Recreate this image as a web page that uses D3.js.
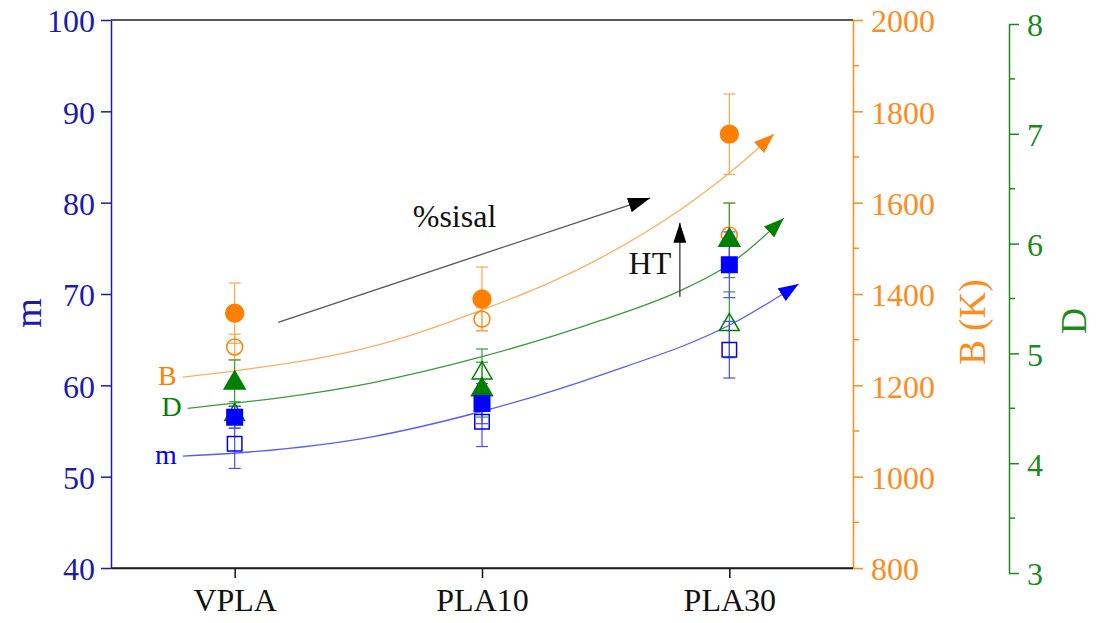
<!DOCTYPE html>
<html>
<head>
<meta charset="UTF-8">
<script src="https://d3js.org/d3.v7.min.js"></script>
<style>
    body { margin: 0; background: #fff; }
    svg { display: block; font-family: "Liberation Serif", "Times New Roman", serif; }
</style>
</head>
<body>
<svg id="chart" width="1096" height="623"></svg>
<script>
    // categories on x
    const categories = ["VPLA", "PLA10", "PLA30"];

    // m (left axis) : open = untreated, filled = HT
    const mOpen = [53.6, 56.0, 63.9];
    const mOpenErr = [2.7, 2.7, 3.1];
    const mHT = [56.5, 58.0, 73.2];
    const mHTErr = [1.2, 2.2, 3.6];

    // B (K) (first right axis)
    const bOpen = [1284, 1345, 1529];
    const bOpenErr = [28, 25, 70];
    const bHT = [1358, 1389, 1750];
    const bHTErr = [66, 70, 88];

    // D (second right axis)
    const dOpen = [4.44, 4.82, 5.26];
    const dOpenErr = [0.12, 0.22, 0.30];
    const dHT = [4.73, 4.67, 6.03];
    const dHTErr = [0.21, 0.25, 0.34];

    // trend curves, [category position, value]
    const bTrend = [[-0.21, 1218], [0.06, 1236], [0.55, 1284], [0.99, 1363], [1.48, 1479], [1.80, 1584], [2.0, 1665], [2.18, 1750]];
    const dTrend = [[-0.19, 4.50], [0.55, 4.73], [1.0, 4.97], [1.48, 5.30], [1.80, 5.57], [2.0, 5.81], [2.22, 6.23]];
    const mTrend = [[-0.21, 52.26], [0.06, 52.70], [0.55, 54.34], [0.99, 57.08], [1.48, 61.13], [2.04, 67.15], [2.28, 71.1]];

    // annotation arrows, [category position, m value]
    const sisalArrow = [[0.176, 66.9], [1.68, 80.5]];
    const htArrow = [[1.80, 69.7], [1.80, 77.8]];

    // ticks
    const mTicks = [40, 50, 60, 70, 80, 90, 100];
    const bTicks = [800, 1000, 1200, 1400, 1600, 1800, 2000];
    const bMinor = [900, 1100, 1300, 1500, 1700, 1900];
    const dTicks = [3, 4, 5, 6, 7, 8];
    const dMinor = [3.5, 4.5, 5.5, 6.5, 7.5];

    const BLUE = "#0000ff", BLUE_AX = "#1b1bb0", BLUE_LN = "#5a5aff";
    const ORANGE = "#ff8000", ORANGE_AX = "#ff8c1a", ORANGE_LN = "#ffae5c";
    const GREEN = "#008000", GREEN_AX = "#1b8a1b", GREEN_LN = "#3c9a3c";

    const svg = d3.select("#chart");
    const pLeft = 111, pRight = 853, pTop = 20, pBottom = 568;

    const x = d3.scaleLinear().domain([-0.5, 2.5]).range([pLeft, pRight]);
    const yM = d3.scaleLinear().domain([40, 100]).range([pBottom, pTop]);
    const yB = d3.scaleLinear().domain([800, 2000]).range([pBottom, pTop]);
    const yD = d3.scaleLinear().domain([3, 8]).range([573, 24]);

    // arrowheads
    const defs = svg.append("defs");
    function arrowHead(id, color, len, wid) {
        defs.append("marker")
            .attr("id", id)
            .attr("markerUnits", "userSpaceOnUse")
            .attr("viewBox", `0 0 ${len} ${wid}`)
            .attr("markerWidth", len)
            .attr("markerHeight", wid)
            .attr("refX", len)
            .attr("refY", wid / 2)
            .attr("orient", "auto")
            .append("path")
            .attr("d", `M0,0 L${len},${wid / 2} L0,${wid} Z`)
            .attr("fill", color);
    }
    arrowHead("arB", ORANGE, 20, 15);
    arrowHead("arD", GREEN, 20, 15);
    arrowHead("arM", BLUE, 20, 15);
    arrowHead("arK", "#000", 22, 15);
    arrowHead("arH", "#000", 20, 13);

    // frame top
    svg.append("line").attr("x1", pLeft).attr("x2", pRight).attr("y1", pTop).attr("y2", pTop)
        .attr("stroke", "#222").attr("stroke-width", 1.5);

    function styleAxis(g, color) {
        g.attr("font-family", null).attr("font-size", null);
        g.select(".domain").attr("stroke", color).attr("stroke-width", 1.5);
        g.selectAll(".tick line").attr("stroke", color).attr("stroke-width", 1.5);
        g.selectAll("text").attr("font-size", 32).attr("fill", color);
    }

    // x axis
    const gx = svg.append("g")
        .attr("transform", `translate(0,${pBottom})`)
        .call(d3.axisBottom(x).tickValues([0, 1, 2]).tickFormat(i => categories[i])
            .tickSize(10).tickSizeOuter(0).tickPadding(10));
    styleAxis(gx, "#111");

    // left axis m
    const gm = svg.append("g")
        .attr("transform", `translate(${pLeft},0)`)
        .call(d3.axisLeft(yM).tickValues(mTicks).tickFormat(d3.format("d"))
            .tickSize(10).tickSizeOuter(0).tickPadding(6));
    styleAxis(gm, BLUE_AX);
    gm.selectAll("text").attr("dy", "0.37em");

    // right axes B and D
    function rightAxis(scale, ticks, minor, xPos, color) {
        const g = svg.append("g").attr("transform", `translate(${xPos},0)`);
        g.call(d3.axisRight(scale).tickValues(ticks).tickFormat(d3.format("d"))
            .tickSize(10).tickSizeOuter(0).tickPadding(8));
        styleAxis(g, color);
        g.selectAll("text").attr("dy", "0.37em");
        g.selectAll(".minor").data(minor).enter().append("line")
            .attr("class", "minor")
            .attr("x1", 0).attr("x2", 6)
            .attr("y1", d => scale(d)).attr("y2", d => scale(d))
            .attr("stroke", color).attr("stroke-width", 1.5);
    }
    rightAxis(yB, bTicks, bMinor, pRight, ORANGE_AX);
    rightAxis(yD, dTicks, dMinor, 1009, GREEN_AX);

    // bottom frame line drawn after the axes so it sits on top
    svg.append("line").attr("x1", pLeft).attr("x2", pRight).attr("y1", pBottom).attr("y2", pBottom)
        .attr("stroke", "#222").attr("stroke-width", 1.5);

    // axis titles
    function rotTitle(txt, cx, cy, color, fs) {
        svg.append("text")
            .attr("transform", `translate(${cx},${cy}) rotate(-90)`)
            .attr("text-anchor", "middle").attr("dy", "0.35em")
            .attr("font-size", fs).attr("fill", color).text(txt);
    }
    rotTitle("m", 28, 313, BLUE_AX, 38);
    rotTitle("B (K)", 972, 322, ORANGE_AX, 37);
    rotTitle("D", 1073, 321, GREEN_AX, 36);

    // trend curves
    const trends = [
        { pts: mTrend, y: yM, color: BLUE_LN, mk: "arM", label: "m", lc: BLUE },
        { pts: dTrend, y: yD, color: GREEN_LN, mk: "arD", label: "D", lc: GREEN },
        { pts: bTrend, y: yB, color: ORANGE_LN, mk: "arB", label: "B", lc: ORANGE }
    ];
    trends.forEach(t => {
        const line = d3.line().x(d => x(d[0])).y(d => t.y(d[1])).curve(d3.curveMonotoneX);
        svg.append("path")
            .attr("d", line(t.pts))
            .attr("fill", "none")
            .attr("stroke", t.color)
            .attr("stroke-width", 1.3)
            .attr("marker-end", `url(#${t.mk})`);
        svg.append("text")
            .attr("x", x(t.pts[0][0]) - 6)
            .attr("y", t.y(t.pts[0][1]) + 8)
            .attr("text-anchor", "end")
            .attr("font-size", 28)
            .attr("fill", t.lc)
            .text(t.label);
    });

    // data points with error bars
    const series = [
        { v: bHT, e: bHTErr, y: yB, shape: d3.symbolCircle, size: 250, filled: true, c: ORANGE, ec: "#ffa64d" },
        { v: bOpen, e: bOpenErr, y: yB, shape: d3.symbolCircle, size: 200, filled: false, c: ORANGE, ec: "#ffa64d" },
        { v: dHT, e: dHTErr, y: yD, shape: d3.symbolTriangle, size: 190, filled: true, c: GREEN, ec: "#3c9a3c" },
        { v: dOpen, e: dOpenErr, y: yD, shape: d3.symbolTriangle, size: 170, filled: false, c: GREEN, ec: "#3c9a3c" },
        { v: mHT, e: mHTErr, y: yM, shape: d3.symbolSquare, size: 240, filled: true, c: BLUE, ec: "#4a4aff" },
        { v: mOpen, e: mOpenErr, y: yM, shape: d3.symbolSquare, size: 210, filled: false, c: BLUE, ec: "#4a4aff" }
    ];

    series.forEach(s => {
        const g = svg.append("g");
        s.v.forEach((val, i) => {
            const cx = x(i), y0 = s.y(val - s.e[i]), y1 = s.y(val + s.e[i]);
            g.append("line").attr("x1", cx).attr("x2", cx).attr("y1", y0).attr("y2", y1)
                .attr("stroke", s.ec).attr("stroke-width", 1.2);
            [y0, y1].forEach(yy => g.append("line")
                .attr("x1", cx - 6).attr("x2", cx + 6).attr("y1", yy).attr("y2", yy)
                .attr("stroke", s.ec).attr("stroke-width", 1.2));
        });
    });

    series.forEach(s => {
        svg.append("g").selectAll("path")
            .data(s.v).enter().append("path")
            .attr("transform", (d, i) => `translate(${x(i)},${s.y(d)})`)
            .attr("d", d3.symbol().type(s.shape).size(s.size))
            .attr("fill", s.filled ? s.c : "none")
            .attr("stroke", s.c)
            .attr("stroke-width", 1.5);
    });

    // annotations
    svg.append("line")
        .attr("x1", x(sisalArrow[0][0])).attr("y1", yM(sisalArrow[0][1]))
        .attr("x2", x(sisalArrow[1][0])).attr("y2", yM(sisalArrow[1][1]))
        .attr("stroke", "#555").attr("stroke-width", 1.3)
        .attr("marker-end", "url(#arK)");
    svg.append("text")
        .attr("x", x(0.72)).attr("y", yM(77.3))
        .attr("font-size", 32).attr("fill", "#111").text("%sisal");

    svg.append("line")
        .attr("x1", x(htArrow[0][0])).attr("y1", yM(htArrow[0][1]))
        .attr("x2", x(htArrow[1][0])).attr("y2", yM(htArrow[1][1]))
        .attr("stroke", "#333").attr("stroke-width", 1.3)
        .attr("marker-end", "url(#arH)");
    svg.append("text")
        .attr("x", x(1.765)).attr("y", yM(72.2))
        .attr("text-anchor", "end")
        .attr("font-size", 32).attr("fill", "#111").text("HT");
</script>
</body>
</html>
